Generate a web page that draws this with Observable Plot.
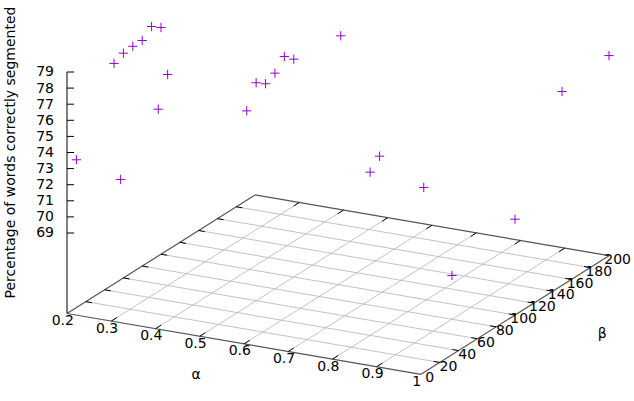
<!DOCTYPE html>
<html>
<head>
<meta charset="utf-8">
<script src="https://cdn.jsdelivr.net/npm/d3@7"></script>
<script src="https://cdn.jsdelivr.net/npm/@observablehq/plot@0.6"></script>
<style>
html,body{margin:0;padding:0;background:#fff}
svg{display:block;max-width:none}
</style>
</head>
<body>
<div id="chart"></div>
<script>
// Data
const alpha = [0.2,0.2,0.2,0.2,0.2,0.2,0.2, 0.3,0.3,0.3, 0.5,0.5,0.5,0.5,0.5,0.5,0.5, 0.8,0.8, 0.9,0.9, 1,1,1];
const beta  = [10,50,60,70,80,90,100, 10,50,60, 50,60,70,80,90,100,150, 40,50, 50,80, 100,150,200];
const pct   = [73.18,77.69,77.96,78.02,78.01,78.51,78.08, 72.43,75.32,77.11, 76.16,77.54,77.11,77.40,78.06,77.53,77.14, 74.14,74.76, 73.29,66.72, 69.95,76.04,76.43];

const alphaTicks = [0.2,0.3,0.4,0.5,0.6,0.7,0.8,0.9,1];
const alphaLabels = ["0.2","0.3","0.4","0.5","0.6","0.7","0.8","0.9","1"];
const betaTicks = [0,20,40,60,80,100,120,140,160,180,200];
const zTicks = [69,70,71,72,73,74,75,76,77,78,79];

const zBase = 64, zTop = 79;
const alphaMin = 0.2, alphaMax = 1, betaMin = 0, betaMax = 200;

// gnuplot-style orthographic projection of (alpha, beta, z) into the plane
const view = {x0: 66.5, y0: 313, ax: 442.5, ay: 76, bx: 0.94, by: -0.593, zy: -16.1};
const px = (a, b) => view.x0 + (a - alphaMin) * view.ax + b * view.bx;
const py = (a, b, z = zBase) => view.y0 + (a - alphaMin) * view.ay + b * view.by + (z - zBase) * view.zy;

const points = alpha.map((a, i) => ({x: px(a, beta[i]), y: py(a, beta[i], pct[i])}));

const seg = (a1, b1, z1, a2, b2, z2) => ({x1: px(a1, b1), y1: py(a1, b1, z1), x2: px(a2, b2), y2: py(a2, b2, z2)});

const gridLines = [
  ...alphaTicks.slice(1, -1).map(a => seg(a, betaMin, zBase, a, betaMax, zBase)),
  ...betaTicks.slice(1, -1).map(b => seg(alphaMin, b, zBase, alphaMax, b, zBase))
];
const border = [
  seg(alphaMin, betaMin, zBase, alphaMax, betaMin, zBase),
  seg(alphaMax, betaMin, zBase, alphaMax, betaMax, zBase),
  seg(alphaMax, betaMax, zBase, alphaMin, betaMax, zBase),
  seg(alphaMin, betaMax, zBase, alphaMin, betaMin, zBase)
];
const tickB = 6, tickA = 0.014;
const ticks = [
  ...alphaTicks.slice(1, -1).flatMap(a => [
    seg(a, betaMin, zBase, a, betaMin + tickB, zBase),
    seg(a, betaMax, zBase, a, betaMax - tickB, zBase)
  ]),
  ...betaTicks.slice(1, -1).flatMap(b => [
    seg(alphaMin, b, zBase, alphaMin + tickA, b, zBase),
    seg(alphaMax, b, zBase, alphaMax - tickA, b, zBase)
  ])
];
const zAxis = [{x1: px(alphaMin, 0), y1: py(alphaMin, 0, zBase), x2: px(alphaMin, 0), y2: py(alphaMin, 0, zTop)}];
const zTickRows = zTicks.map(z => ({x1: px(alphaMin, 0), y: py(alphaMin, 0, z), x2: px(alphaMin, 0) + 7, z}));

const font = "'DejaVu Sans', sans-serif";
const fs = 14;

const chart = Plot.plot({
  width: 634,
  height: 401,
  margin: 0,
  style: {background: "#fff", fontFamily: font},
  x: {domain: [0, 634], range: [0, 634], axis: null},
  y: {domain: [0, 401], range: [0, 401], axis: null},
  marks: [
    Plot.link(gridLines, {x1: "x1", y1: "y1", x2: "x2", y2: "y2", stroke: "#b4b4b4", strokeWidth: 0.8}),
    Plot.link(border, {x1: "x1", y1: "y1", x2: "x2", y2: "y2", stroke: "#555", strokeWidth: 1.2}),
    Plot.link(ticks, {x1: "x1", y1: "y1", x2: "x2", y2: "y2", stroke: "#000", strokeWidth: 1}),
    Plot.link(zAxis, {x1: "x1", y1: "y1", x2: "x2", y2: "y2", stroke: "#000", strokeWidth: 1}),
    Plot.link(zTickRows, {x1: "x1", y1: "y", x2: "x2", y2: "y", stroke: "#000", strokeWidth: 1}),
    Plot.text(zTickRows, {x: d => d.x1 - 13, y: "y", text: d => String(d.z), textAnchor: "end", fontSize: fs, fill: "#000"}),
    Plot.text(alphaTicks, {x: a => px(a, 0) - 4.2, y: a => py(a, 0) + 7, text: (a, i) => alphaLabels[i], fontSize: fs, fill: "#000"}),
    Plot.text(betaTicks, {x: b => px(alphaMax, b) + 8.6, y: b => py(alphaMax, b) + 3.7, text: b => String(b), fontSize: fs, fill: "#000"}),
    Plot.text(["α"], {x: () => 195.7, y: () => 374, fontSize: fs, fill: "#000"}),
    Plot.text(["β"], {x: () => 601.7, y: () => 332.7, fontSize: fs, fill: "#000"}),
    Plot.text(["Percentage of words correctly segmented"], {x: () => 10, y: () => 152, rotate: -90, fontSize: fs, fill: "#000"}),
    Plot.dot(points, {x: "x", y: "y", symbol: "plus", r: 3.1, stroke: "#9400d3", strokeWidth: 1})
  ]
});
document.getElementById("chart").appendChild(chart);
</script>
</body>
</html>
